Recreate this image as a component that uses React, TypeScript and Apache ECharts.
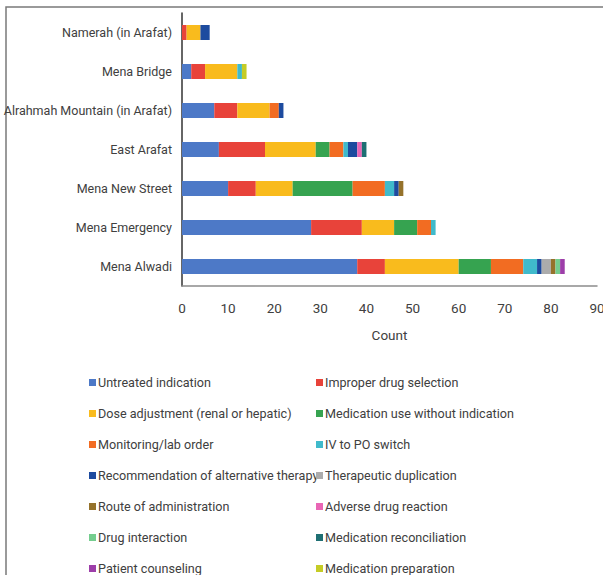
import React, { useEffect, useRef } from "react";
import * as echarts from "echarts";

// Sites, bottom to top on the category axis
const categories = [
  "Mena Alwadi",
  "Mena Emergency",
  "Mena New Street",
  "East Arafat",
  "Alrahmah Mountain (in Arafat)",
  "Mena Bridge",
  "Namerah (in Arafat)",
];

// Counts per intervention type, in the same order as categories
const untreatedIndication = [38, 28, 10, 8, 7, 2, 0];
const improperDrugSelection = [6, 11, 6, 10, 5, 3, 1];
const doseAdjustment = [16, 7, 8, 11, 7, 7, 3];
const medicationUseWithoutIndication = [7, 5, 13, 3, 0, 0, 0];
const monitoringLabOrder = [7, 3, 7, 3, 2, 0, 0];
const ivToPoSwitch = [3, 1, 2, 1, 0, 1, 0];
const alternativeTherapy = [1, 0, 1, 2, 1, 0, 2];
const therapeuticDuplication = [2, 0, 0, 0, 0, 0, 0];
const routeOfAdministration = [1, 0, 1, 0, 0, 0, 0];
const adverseDrugReaction = [0, 0, 0, 1, 0, 0, 0];
const drugInteraction = [1, 0, 0, 0, 0, 0, 0];
const medicationReconciliation = [0, 0, 0, 1, 0, 0, 0];
const patientCounseling = [1, 0, 0, 0, 0, 0, 0];
const medicationPreparation = [0, 0, 0, 0, 0, 1, 0];

const xTicks = [0, 10, 20, 30, 40, 50, 60, 70, 80, 90];

const seriesDefs = [
  { name: "Untreated indication", data: untreatedIndication, color: "#4d79c7" },
  { name: "Improper drug selection", data: improperDrugSelection, color: "#e8433a" },
  { name: "Dose adjustment (renal or hepatic)", data: doseAdjustment, color: "#f9bb1d" },
  { name: "Medication use without indication", data: medicationUseWithoutIndication, color: "#36a350" },
  { name: "Monitoring/lab order", data: monitoringLabOrder, color: "#f26c22" },
  { name: "IV to PO switch", data: ivToPoSwitch, color: "#40bacb" },
  { name: "Recommendation of alternative therapy", data: alternativeTherapy, color: "#1d4b9f" },
  { name: "Therapeutic duplication", data: therapeuticDuplication, color: "#acacac" },
  { name: "Route of administration", data: routeOfAdministration, color: "#95722b" },
  { name: "Adverse drug reaction", data: adverseDrugReaction, color: "#e966b5" },
  { name: "Drug interaction", data: drugInteraction, color: "#74cd8e" },
  { name: "Medication reconciliation", data: medicationReconciliation, color: "#1e6f73" },
  { name: "Patient counseling", data: patientCounseling, color: "#9d3ea9" },
  { name: "Medication preparation", data: medicationPreparation, color: "#c5cc26" },
];

const FONT = "Roboto, 'Liberation Sans', Arial, sans-serif";
const TEXT = "#404040";

export default function App() {
  const ref = useRef<HTMLDivElement>(null);

  useEffect(() => {
    if (!ref.current) return;
    const chart = echarts.init(ref.current, undefined, { renderer: "svg" });

    const names = seriesDefs.map((s) => s.name);
    const leftNames = names.filter((_, i) => i % 2 === 0);
    const rightNames = names.filter((_, i) => i % 2 === 1);

    const legendCommon = {
      orient: "vertical" as const,
      top: 374,
      height: 260,
      itemWidth: 7,
      itemHeight: 7,
      itemGap: 14,
      icon: "rect",
      textStyle: { fontFamily: FONT, fontSize: 12.6, color: TEXT, lineHeight: 17, padding: [0, 0, 0, -3] },
      padding: 0,
    };

    chart.setOption({
      animation: false,
      textStyle: { fontFamily: FONT },
      grid: {
        left: 182,
        right: 6,
        top: 13,
        height: 273,
        containLabel: false,
        outerBoundsMode: "none",
      },
      xAxis: {
        type: "value",
        min: xTicks[0],
        max: xTicks[xTicks.length - 1],
        interval: 10,
        name: "Count",
        nameLocation: "middle",
        nameGap: 42,
        nameTextStyle: { fontFamily: FONT, fontSize: 13.5, color: TEXT },
        axisLine: { show: true, lineStyle: { color: "#8c8c8c", width: 1.5 } },
        axisTick: { show: false },
        splitLine: { show: false },
        axisLabel: { fontFamily: FONT, fontSize: 13.5, color: TEXT, margin: 15 },
      },
      yAxis: {
        type: "category",
        data: categories,
        axisLine: { show: true, lineStyle: { color: "#333", width: 1.5 } },
        axisTick: { show: false },
        axisLabel: { fontFamily: FONT, fontSize: 12.5, color: TEXT, margin: 10 },
      },
      legend: [
        { ...legendCommon, left: 89, data: leftNames },
        { ...legendCommon, left: 316, data: rightNames },
      ],
      graphic: [
        {
          type: "rect",
          shape: { x: 6, y: 7, width: 700, height: 700 },
          style: { fill: "none", stroke: "#7a7a7a", lineWidth: 1.5 },
          silent: true,
        },
      ],
      series: seriesDefs.map((s) => ({
        name: s.name,
        type: "bar",
        stack: "total",
        data: s.data,
        barWidth: 15,
        itemStyle: { color: s.color },
      })),
    });

    return () => chart.dispose();
  }, []);

  return (
    <div
      ref={ref}
      style={{ position: "fixed", left: 0, top: 0, width: 603, height: 575, background: "#fff" }}
    />
  );
}
